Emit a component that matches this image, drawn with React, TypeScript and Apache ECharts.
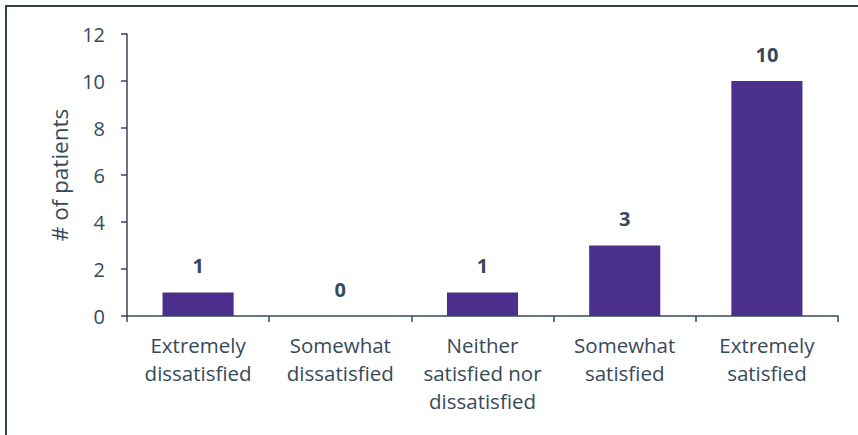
import React, { useEffect, useRef } from "react";
import * as echarts from "echarts";

const categories = [
  "Extremely\ndissatisfied",
  "Somewhat\ndissatisfied",
  "Neither\nsatisfied nor\ndissatisfied",
  "Somewhat\nsatisfied",
  "Extremely\nsatisfied",
];
const patients = [1, 0, 1, 3, 10];
const yTicks = { min: 0, max: 12, interval: 2 };

const TEXT = "#36495a";
const BAR = "#4a2f8c";
const FRAME = "#2f4350";
const FONT = "Open Sans";

export default function App() {
  const ref = useRef<HTMLDivElement>(null);

  useEffect(() => {
    document.body.style.margin = "0";
    if (!ref.current) return;
    const chart = echarts.init(ref.current, undefined, { renderer: "svg" });
    chart.setOption({
      animation: false,
      backgroundColor: "#ffffff",
      textStyle: { fontFamily: FONT },
      graphic: [
        {
          type: "line",
          shape: { x1: 6, y1: 5, x2: 6, y2: 435 },
          style: { stroke: FRAME, lineWidth: 2 },
          silent: true,
        },
        {
          type: "line",
          shape: { x1: 5, y1: 6, x2: 858, y2: 6 },
          style: { stroke: FRAME, lineWidth: 2 },
          silent: true,
        },
      ],
      grid: { left: 127, right: 20, top: 34, bottom: 119 },
      xAxis: {
        type: "category",
        data: categories,
        axisLine: { lineStyle: { color: TEXT, width: 1.5 } },
        axisTick: { show: true, length: 6, lineStyle: { color: TEXT, width: 1.5 } },
        axisLabel: {
          color: TEXT,
          fontFamily: FONT,
          fontSize: 20.5,
          lineHeight: 28,
          margin: 15,
          interval: 0,
        },
      },
      yAxis: {
        type: "value",
        min: yTicks.min,
        max: yTicks.max,
        interval: yTicks.interval,
        name: "# of patients",
        nameLocation: "middle",
        nameGap: 55,
        nameTextStyle: { color: TEXT, fontFamily: FONT, fontSize: 22.5 },
        splitLine: { show: false },
        axisLine: { show: true, lineStyle: { color: TEXT, width: 1.5 } },
        axisTick: { show: true, length: 6, lineStyle: { color: TEXT, width: 1.5 } },
        axisLabel: { color: TEXT, fontFamily: FONT, fontSize: 20, margin: 22 },
      },
      series: [
        {
          type: "bar",
          data: patients,
          barWidth: "50%",
          itemStyle: { color: BAR },
          label: {
            show: true,
            position: "top",
            distance: 17,
            color: TEXT,
            fontFamily: FONT,
            fontWeight: "bold",
            fontSize: 20,
          },
        },
      ],
    });
    return () => chart.dispose();
  }, []);

  return <div ref={ref} style={{ width: 858, height: 435 }} />;
}
